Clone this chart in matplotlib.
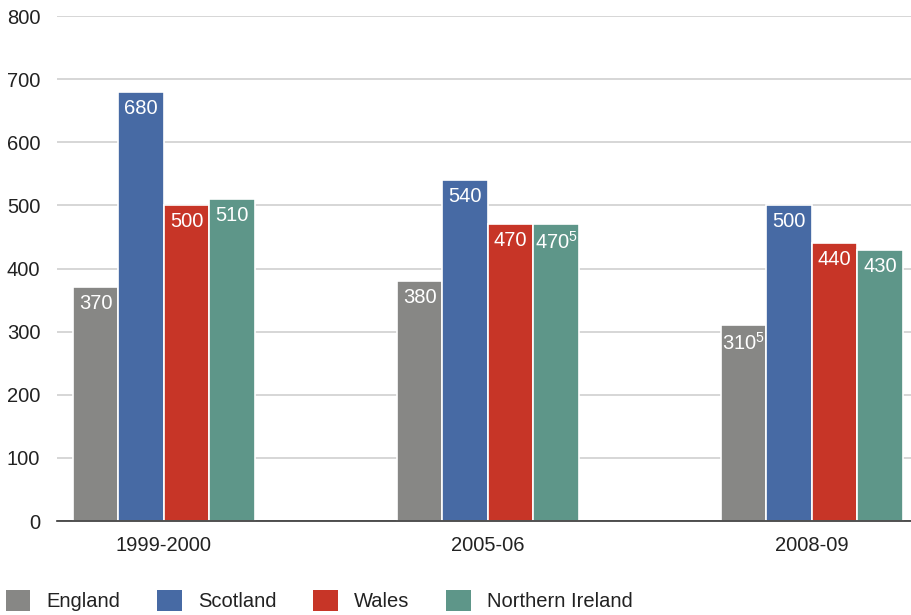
import matplotlib
matplotlib.use('Agg')
import matplotlib.pyplot as plt
import numpy as np

plt.rcParams['font.family'] = ['Liberation Sans', 'DejaVu Sans']
plt.rcParams['mathtext.default'] = 'regular'

# 数据
years = ['1999-2000', '2005-06', '2008-09']
countries = ['England', 'Scotland', 'Wales', 'Northern Ireland']
england = [370, 380, 310]
scotland = [680, 540, 500]
wales = [500, 470, 440]
n_ireland = [510, 470, 430]
# 带脚注的标签 (国家序号, 年份序号)
footnotes = {(3, 1): '5', (0, 2): '5'}

colors = ['#878785', '#476aa4', '#c73527', '#5e9689']
series = [england, scotland, wales, n_ireland]

fig = plt.figure(figsize=(9.12, 6.15), dpi=100)
ax = fig.add_axes([0.0625, 0.1528, 0.9375, 0.8211])

x = np.arange(len(years))
w = 0.1404
for i, (vals, c) in enumerate(zip(series, colors)):
    pos = x + (i - 1.5) * w
    ax.bar(pos, vals, width=w, color=c, edgecolor='white', linewidth=1.2,
           label=countries[i], zorder=3)
    for j, v in enumerate(vals):
        txt = str(v)
        if (i, j) in footnotes:
            txt = txt + '$^{' + footnotes[(i, j)] + '}$'
        ax.annotate(txt, (pos[j], v), xytext=(0, -5), textcoords='offset points',
                    ha='center', va='top', color='white', fontsize=14.5, zorder=4)

ax.set_xlim(-0.330, 2.309)
ax.set_ylim(0, 800)
ax.set_yticks(range(0, 801, 100))
ax.set_xticks(x)
ax.set_xticklabels(years)
ax.grid(axis='y', color='#cfcfcf', linewidth=1.2, zorder=0)
for s in ['top', 'right', 'left']:
    ax.spines[s].set_visible(False)
ax.spines['bottom'].set_color('#333333')
ax.spines['bottom'].set_linewidth(1.2)
ax.spines['bottom'].set_zorder(5)
ax.tick_params(axis='both', length=0, labelsize=14.5, labelcolor='#222222')
ax.tick_params(axis='x', pad=11)
ax.tick_params(axis='y', pad=12)

leg = fig.legend(loc='lower left', bbox_to_anchor=(0.0, -0.004), ncol=4, frameon=False,
                 fontsize=14.5, handlelength=1.2, handleheight=1.2, handletextpad=0.8,
                 columnspacing=1.85, borderaxespad=0, borderpad=0.3, labelcolor='#222222')
for h in leg.legend_handles:
    h.set_edgecolor('none')

plt.savefig('out.png', dpi=100)
